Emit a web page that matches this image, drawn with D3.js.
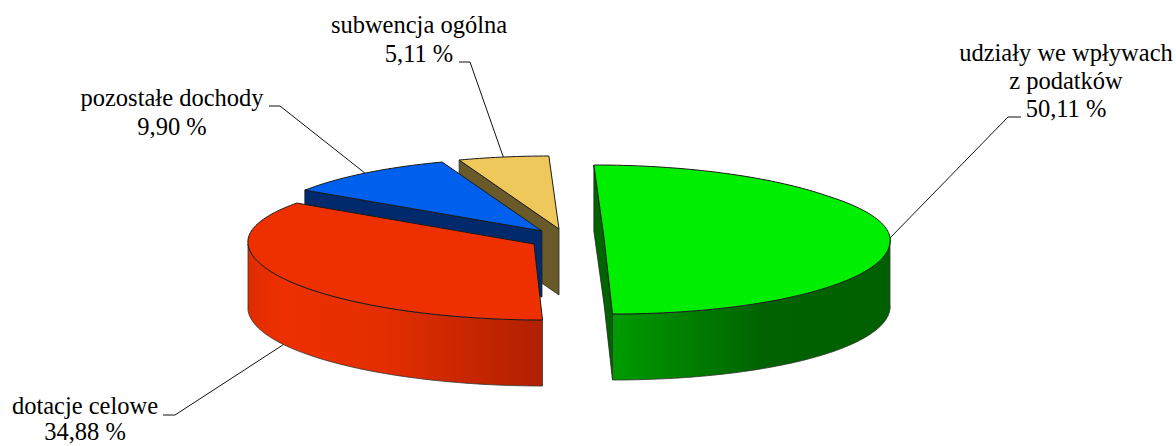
<!DOCTYPE html>
<html>
<head>
<meta charset="utf-8">
<script src="https://d3js.org/d3.v7.min.js"></script>
<style>
html, body { margin: 0; background: #fff; }
svg { display: block; }
text { font-family: "Liberation Serif", serif; font-size: 24.5px; fill: #000; }
</style>
</head>
<body>
<script>
var width = 1176;
var height = 446;

// data
var categories = ["udziały we wpływach z podatków", "dotacje celowe", "pozostałe dochody", "subwencja ogólna"];
var shares = [50.11, 34.88, 9.90, 5.11];
var labelLines = [
    ["udziały we wpływach", "z podatków", "50,11 %"],
    ["dotacje celowe", "34,88 %"],
    ["pozostałe dochody", "9,90 %"],
    ["subwencja ogólna", "5,11 %"]
];

// look of the slices
var topColors = ["#00ee00", "#ee3000", "#0060ee", "#eec85a"];
var wallColors = ["#006400", "#b02000", "#002a6c", "#6a5a2a"];
var rimStops = [
    [["0%", "#009c00"], ["55%", "#006200"], ["100%", "#006000"]],
    [["0%", "#e02c00"], ["12%", "#ee3000"], ["45%", "#e42e00"], ["100%", "#b02000"]]
];
var sliceCenters = [[604, 238], [534, 244], [542, 231], [559, 229]];
var labelCenters = [1066, 85, 172, 419];
var labelFirstBaseline = [61, 414, 106, 33];
var lineGaps = [28, 26, 29, 29];
var elbows = [
    [[1008, 117], [1021, 117]],
    [[175, 415], [163, 415]],
    [[280, 106], [269, 106]],
    [[470, 62], [459, 62]]
];
var depth = 66;
var shear = 0.125;

var svg = d3.select("body")
    .append("svg")
    .attr("width", width)
    .attr("height", height);

var defs = svg.append("defs");

// unit circle -> squashed ellipse, the back part comes out a bit flatter
var xScale = d3.scaleLinear().domain([-1, 1]).range([-286, 286]);
var yScale = d3.scaleLinear().domain([-1, -0.6, 0, 1]).range([-73, -42, 0, 76]);

function project(i, angle, drop) {
    var c = sliceCenters[i];
    var y = yScale(-Math.cos(angle));
    return [c[0] + xScale(Math.sin(angle)) + shear * y, c[1] + y + (drop || 0)];
}

function arcPoints(i, a0, a1, drop) {
    var n = Math.max(2, Math.ceil(Math.abs(a1 - a0) / 0.02));
    return d3.range(n + 1).map(function(k) {
        return project(i, a0 + (a1 - a0) * k / n, drop);
    });
}

var line = d3.line();

var pie = d3.pie()
    .sort(null)
    .startAngle(-0.0035)
    .endAngle(2 * Math.PI - 0.0035)
    .value(function(d) { return d; });
var slices = pie(shares);

// the back slices go first so the big ones cover them
var order = [3, 2, 1, 0];

order.forEach(function(i) {
    var s = slices[i];
    var g = svg.append("g").attr("class", "slice").attr("data-name", categories[i]);
    var center = sliceCenters[i];
    var centerLow = [center[0], center[1] + depth];

    // radial wall: the green one shows its whole straight side,
    // blue and tan only the cut that faces left, red has none in view
    var wall = null;
    if (i === 0) {
        wall = [project(0, s.startAngle), center, project(0, s.endAngle),
            project(0, s.endAngle, depth), centerLow, project(0, s.startAngle, depth)];
    } else if (i > 1) {
        wall = [center, project(i, s.startAngle), project(i, s.startAngle, depth), centerLow];
    }
    if (wall) {
        g.append("path")
            .attr("d", line(wall) + "Z")
            .attr("fill", wallColors[i])
            .attr("stroke", "#222")
            .attr("stroke-width", 0.8);
    }

    // outer rim, only what faces the viewer
    if (i < 2) {
        var rimFrom = Math.max(s.startAngle, Math.PI / 2);
        var rimTo = Math.min(s.endAngle, Math.PI * 1.5);
        var rimTop = arcPoints(i, rimFrom, rimTo, 0);
        var rimLow = arcPoints(i, rimTo, rimFrom, depth);
        var ext = d3.extent(rimTop, function(p) { return p[0]; });
        var grad = defs.append("linearGradient")
            .attr("id", "rim" + i)
            .attr("gradientUnits", "userSpaceOnUse")
            .attr("x1", ext[0]).attr("x2", ext[1])
            .attr("y1", 0).attr("y2", 0);
        grad.selectAll("stop")
            .data(rimStops[i])
            .enter()
            .append("stop")
            .attr("offset", function(d) { return d[0]; })
            .attr("stop-color", function(d) { return d[1]; });
        g.append("path")
            .attr("d", line(rimTop.concat(rimLow)) + "Z")
            .attr("fill", "url(#rim" + i + ")")
            .attr("stroke", "#333")
            .attr("stroke-width", 0.8);
    }

    // top face
    var top = [center].concat(arcPoints(i, s.startAngle, s.endAngle, 0));
    g.append("path")
        .attr("d", line(top) + "Z")
        .attr("fill", topColors[i])
        .attr("stroke", "#1a1a1a")
        .attr("stroke-width", 1)
        .attr("stroke-linejoin", "round");
});

// leader lines start at the middle of each slice, red one from the lower rim
slices.forEach(function(s, i) {
    var mid = (s.startAngle + s.endAngle) / 2;
    var start = project(i, mid, i === 1 ? depth : 0);
    svg.append("path")
        .attr("d", line([start].concat(elbows[i])))
        .attr("fill", "none")
        .attr("stroke", "#111")
        .attr("stroke-width", 1);
});

labelLines.forEach(function(lines, i) {
    var t = svg.append("text").attr("text-anchor", "middle");
    lines.forEach(function(txt, k) {
        t.append("tspan")
            .attr("x", labelCenters[i])
            .attr("y", labelFirstBaseline[i] + k * lineGaps[i])
            .text(txt);
    });
});
</script>
</body>
</html>
